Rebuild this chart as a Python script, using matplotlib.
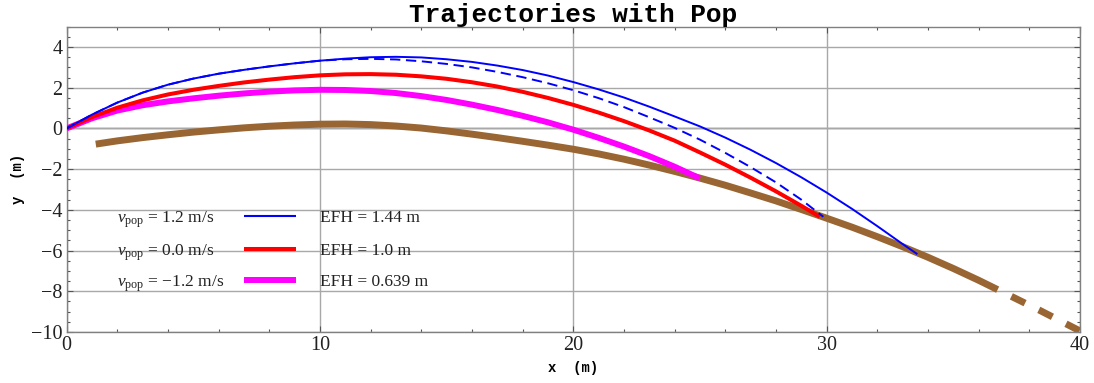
import matplotlib
matplotlib.use("Agg")
import matplotlib.pyplot as plt
from matplotlib.ticker import MultipleLocator

# ===============================
# DATA
# ===============================
# v_pop = 1.2 m/s (solid blue)
blue_x = [0, 1, 2, 3, 4, 5, 6, 7, 8, 9, 10, 11, 12, 13, 14, 15, 16, 17, 18, 19, 20,
          21, 22, 23, 24, 25, 26, 27, 28, 29, 30, 31, 32, 33, 33.55]
blue_y = [0, 0.68, 1.27, 1.76, 2.15, 2.45, 2.69, 2.88, 3.05, 3.20, 3.33, 3.43, 3.50, 3.52,
          3.49, 3.40, 3.27, 3.09, 2.87, 2.60, 2.28, 1.92, 1.52, 1.07, 0.59, 0.10, -0.45,
          -1.05, -1.70, -2.40, -3.15, -3.95, -4.80, -5.68, -6.15]

# dashed blue trajectory
bdash_x = [0, 1, 2, 3, 4, 5, 6, 7, 8, 9, 10, 11, 12, 13, 14, 15, 16, 17, 18, 19, 20,
           21, 22, 23, 24, 25, 26, 27, 28, 29, 29.87]
bdash_y = [0, 0.68, 1.27, 1.76, 2.15, 2.45, 2.69, 2.88, 3.05, 3.20, 3.33, 3.40, 3.42, 3.39,
           3.30, 3.17, 3.00, 2.78, 2.52, 2.22, 1.88, 1.49, 1.05, 0.55, 0.03, -0.55, -1.20,
           -1.90, -2.65, -3.50, -4.34]

# v_pop = 0.0 m/s (red)
red_x = [0, 1, 2, 3, 4, 5, 6, 7, 8, 9, 10, 11, 12, 13, 14, 15, 16, 17, 18, 19, 20,
         21, 22, 23, 24, 25, 26, 27, 28, 29, 29.73]
red_y = [0, 0.56, 1.02, 1.38, 1.67, 1.90, 2.09, 2.26, 2.40, 2.52, 2.61, 2.66, 2.67, 2.64,
         2.56, 2.44, 2.27, 2.06, 1.80, 1.50, 1.16, 0.78, 0.36, -0.10, -0.60, -1.18, -1.78,
         -2.42, -3.09, -3.80, -4.34]

# v_pop = -1.2 m/s (magenta)
mag_x = [0, 1, 2, 3, 4, 5, 6, 7, 8, 9, 10, 11, 12, 13, 14, 15, 16, 17, 18, 19, 20,
         21, 22, 23, 24, 24.99]
mag_y = [0, 0.50, 0.88, 1.14, 1.33, 1.48, 1.61, 1.72, 1.81, 1.87, 1.90, 1.89, 1.84, 1.74,
         1.59, 1.40, 1.17, 0.91, 0.62, 0.30, -0.06, -0.46, -0.89, -1.36, -1.88, -2.45]

# landing surface (brown), solid part then dashed extension
brown_x = [1.15, 2, 3, 4, 5, 6, 7, 8, 9, 10, 11, 12, 13, 14, 15, 16, 17, 18, 19, 20,
           21, 22, 23, 24, 25, 26, 27, 28, 29, 30, 31, 32, 33, 34, 35, 36, 36.75]
brown_y = [-0.77, -0.61, -0.45, -0.31, -0.18, -0.07, 0.03, 0.11, 0.17, 0.21, 0.22, 0.19,
           0.12, 0.02, -0.12, -0.28, -0.45, -0.63, -0.82, -1.02, -1.25, -1.51, -1.80,
           -2.11, -2.44, -2.79, -3.17, -3.56, -3.98, -4.41, -4.85, -5.32, -5.81, -6.33,
           -6.88, -7.46, -7.92]
brown_ext_x = [36.75, 38.4, 40.0]
brown_ext_y = [-7.92, -8.93, -9.95]

vpop_labels = ["$v_{\\mathrm{pop}}$ = 1.2 m/s",
               "$v_{\\mathrm{pop}}$ = 0.0 m/s",
               "$v_{\\mathrm{pop}}$ = \u22121.2 m/s"]
efh_labels = ["EFH = 1.44 m", "EFH = 1.0 m", "EFH = 0.639 m"]

# ===============================
# STYLE
# ===============================
plt.rcParams["font.family"] = ["Liberation Serif", "DejaVu Serif"]
plt.rcParams["mathtext.fontset"] = "custom"
plt.rcParams["mathtext.rm"] = "Liberation Serif"
plt.rcParams["mathtext.it"] = "Liberation Serif:italic"

BLUE = "#0000ff"
RED = "#ff0000"
MAGENTA = "#ff00ff"
BROWN = "#996633"
GRID = "#a8a8a8"
FRAME = "#808080"

fig = plt.figure(figsize=(10.94, 3.83), dpi=100)
ax = fig.add_axes([0.0609, 0.1332, 0.9263, 0.7971])

ax.set_xlim(0, 40)
ax.set_ylim(-10, 5)

# grid + zero line
ax.xaxis.set_major_locator(MultipleLocator(10))
ax.xaxis.set_minor_locator(MultipleLocator(2))
ax.yaxis.set_major_locator(MultipleLocator(2))
ax.yaxis.set_minor_locator(MultipleLocator(0.5))
ax.grid(True, which="major", color=GRID, linewidth=1.0)
ax.axhline(0, color="black", linewidth=0.9, zorder=1.5)

# curves
ax.plot(brown_x, brown_y, color=BROWN, linewidth=5, solid_capstyle="butt", zorder=2)
ax.plot(brown_ext_x, brown_ext_y, color=BROWN, linewidth=5,
        linestyle=(2.2, (2.2, 2.2)), dash_capstyle="butt", zorder=2)
ax.plot(mag_x, mag_y, color=MAGENTA, linewidth=4.3, solid_capstyle="butt", zorder=3)
ax.plot(red_x, red_y, color=RED, linewidth=2.9, solid_capstyle="butt", zorder=4)
ax.plot(bdash_x, bdash_y, color=BLUE, linewidth=1.4, dashes=(5.3, 2.9), zorder=5)
ax.plot(blue_x, blue_y, color=BLUE, linewidth=1.4, zorder=6)

# legend drawn mathematica-style: label | sample | label
row_y = [0.379, 0.273, 0.169]
sample_lw = [1.5, 2.9, 4.3]
sample_col = [BLUE, RED, MAGENTA]
for i in range(3):
    ax.text(0.0502, row_y[i], vpop_labels[i], transform=ax.transAxes,
            fontsize=12.5, va="center_baseline", ha="left", color="#222222")
    ax.plot([0.175, 0.2265], [row_y[i], row_y[i]], transform=ax.transAxes,
            color=sample_col[i], linewidth=sample_lw[i], solid_capstyle="butt")
    ax.text(0.25, row_y[i], efh_labels[i], transform=ax.transAxes,
            fontsize=12.5, va="center_baseline", ha="left", color="#222222")

# frame / ticks
for s in ax.spines.values():
    s.set_color(FRAME)
    s.set_linewidth(1.0)
ax.tick_params(which="both", direction="in", top=True, right=True,
               color="#555555", labelsize=14.5, labelcolor="#222222")
ax.tick_params(which="major", length=4, width=0.8, pad=3)
ax.tick_params(which="minor", length=2.2, width=0.8)

mono = ["Liberation Mono", "DejaVu Sans Mono"]
ax.set_title("Trajectories with Pop", family=mono, fontweight="bold",
             fontsize=18.8, pad=2.2)
ax.set_xlabel("x  (m)", family=mono, fontweight="bold", fontsize=10, labelpad=4)
ax.set_ylabel("y  (m)", family=mono, fontweight="bold", fontsize=10, labelpad=4)

fig.savefig("out.png", dpi=100)
